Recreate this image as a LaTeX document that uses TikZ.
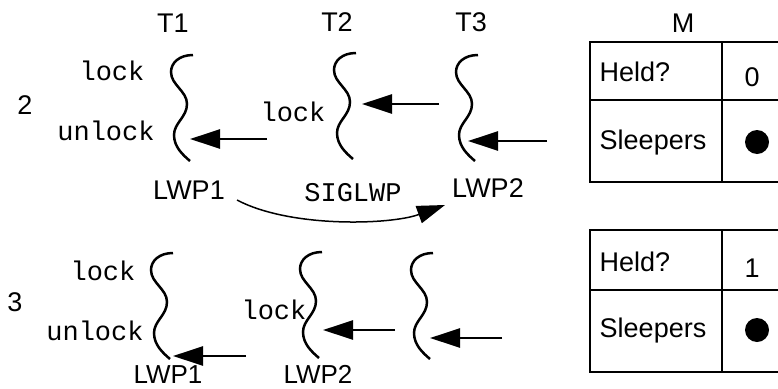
\documentclass[tikz,border=0pt]{standalone}
\usepackage{fontspec}
\setmainfont{Liberation Sans}
\setmonofont{Liberation Mono}
\usetikzlibrary{arrows.meta}
\begin{document}
\begin{tikzpicture}[x=1pt,y=-1pt,
  lbl/.style={inner sep=0pt,font=\fontsize{27}{32}\selectfont},
  lblb/.style={inner sep=0pt,font=\fontsize{26}{30}\selectfont},
  code/.style={inner sep=0pt,font=\fontsize{27}{32}\selectfont\ttfamily},
  squig/.style={line width=2.5pt},
  bigarrow/.style={line width=2.6pt,-{Triangle[length=30pt,width=19pt]}},
  sigarrow/.style={line width=1.5pt,-{Triangle[length=28pt,width=18pt]}},
  tbl/.style={line width=2.5pt}]
\useasboundingbox (0,0) rectangle (778,388);
\clip (0,0) rectangle (778,388);
\fill[white] (0,0) rectangle (778,388);
% squiggle macro
\def\squiggle(#1,#2){%
  \draw[squig] (#1,#2) .. controls +(-14,0) and +(0,-9) .. ++(-22,17)
    .. controls +(0,13) and +(0,-13) .. ++(16,32)
    .. controls +(0,13) and +(0,-12) .. ++(-13,31)
    .. controls +(0,12) and +(-7,-6) .. ++(16,26);}
% headers
\node[lbl] (t1) at (173,23) {T1};
\node[lbl] (t2) at (337,22) {T2};
\node[lbl] (t3) at (471,22) {T3};
\node[lbl] (m) at (683,23) {M};
\node[lbl] (s2) at (25,105) {2};
\node[lbl] (s3) at (15,302) {3};
% top row
\squiggle(193,55)
\squiggle(356,53)
\squiggle(478,55)
\node[code] (lk1) at (112,71) {lock};
\node[code] (ul1) at (106,131) {unlock};
\node[code] (lk2) at (293,112) {lock};
\node[lbl] (lwp1a) at (189,190) {LWP1};
\node[code] (sig) at (353,193) {SIGLWP};
\node[lbl] (lwp2a) at (488,188) {LWP2};
\coordinate (a1s) at (267,139); \coordinate (a1e) at (190,139);
\coordinate (a2s) at (439,104); \coordinate (a2e) at (362,104);
\coordinate (a3s) at (547,141); \coordinate (a3e) at (468,141);
\draw[bigarrow] (a1s) -- (a1e);
\draw[bigarrow] (a2s) -- (a2e);
\draw[bigarrow] (a3s) -- (a3e);
\coordinate (cs) at (237,200); \coordinate (ce) at (445,205);
\draw[sigarrow] (cs) .. controls (290,228) and (390,225) .. (ce);
% bottom row
\squiggle(173,253)
\squiggle(322,252)
\squiggle(433,253)
\node[code] (lk3) at (103,271) {lock};
\node[code] (ul3) at (95,331) {unlock};
\node[code] (lk4) at (274,310) {lock};
\node[lblb] (lwp1b) at (168,374.5) {LWP1};
\node[lblb] (lwp2b) at (318,374.5) {LWP2};
\coordinate (b1s) at (246,356); \coordinate (b1e) at (173,356);
\coordinate (b2s) at (395,330); \coordinate (b2e) at (323,330);
\coordinate (b3s) at (502,338); \coordinate (b3e) at (430,338);
\draw[bigarrow] (b1s) -- (b1e);
\draw[bigarrow] (b2s) -- (b2e);
\draw[bigarrow] (b3s) -- (b3e);
% tables
\draw[tbl] (790,42) -- (590,42) -- (590,182) -- (790,182);
\draw[tbl] (590,100) -- (790,100);
\draw[tbl] (722,42) -- (722,182);
\node[lbl] (h1) at (635,72) {Held?};
\node[lbl] (v0) at (752,77) {0};
\node[lbl] (sl1) at (653,143) {Sleepers};
\fill (757,142) circle (12);
\draw[tbl] (790,230) -- (590,230) -- (590,372) -- (790,372);
\draw[tbl] (590,290) -- (790,290);
\draw[tbl] (722,230) -- (722,372);
\node[lbl] (h2) at (635,262) {Held?};
\node[lbl] (v1) at (752,268) {1};
\node[lbl] (sl2) at (653,331) {Sleepers};
\fill (757,330) circle (12);
\end{tikzpicture}
\end{document}
